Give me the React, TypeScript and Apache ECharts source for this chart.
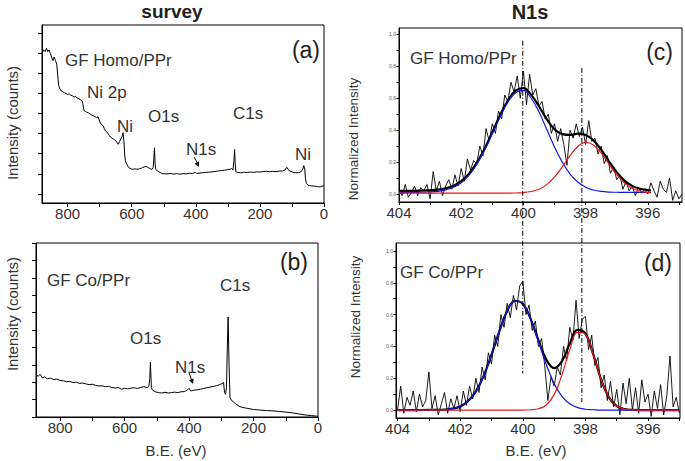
import React, { useEffect, useRef } from "react";
import * as echarts from "echarts";

const FONT = '"Liberation Sans", Arial, sans-serif';

// ---------- survey (a) GF Homo/PPr ----------
const surveyA_eV = [880,875,870,866,862,858,854,850,846,842,838,834,831,828,824,820,815,810,805,800,795,790,785,780,775,770,765,760,755,752,749,745,740,735,730,725,720,715,710,705,702,698,694,690,686,682,678,674,670,666,662,658,654,650,646,642,638,634,630,627,624,622,620,617,614,610,605,600,595,590,585,580,575,570,565,560,555,550,545,540,536,533,531,529,527,525,520,515,510,505,500,490,480,470,460,450,440,430,420,410,402,398,390,380,370,360,350,340,330,320,310,300,292,288,284,281,279,277,275,270,260,250,240,230,220,210,200,190,180,170,160,150,140,130,122,116,112,108,100,94,88,80,74,70,66,63,60,58,55,50,45,40,30,20,12,6,0];
const surveyA_I = [84,86,85,87,85,86,84,82,80,82,80,78,72,66,64,63,62.5,62,61.5,61,61.3,60.5,60.2,59.5,59.8,59,58.6,58,57.5,55,52,51.5,51,50.6,50,49.4,49,48.5,48,48.5,47,45,44,43.5,42,40.5,40,39,38,37,36.5,36,35.5,35,34,33,34.5,36,37.5,39.5,34,27,24,22.5,21.5,20,19.5,19,19,19.2,19,19,19.3,19.5,20,20.3,20.5,20,19.5,19,19,20,25,31,22,19,18,17.5,17,16.5,16.5,16.3,16.6,16.3,16.5,16.2,16.5,16.4,16.7,16.6,17.2,16.6,16.8,17,17.2,17.3,17.5,17.7,18,18.2,18.4,18.8,19,19.4,18.5,24,30,22,17.5,17.2,17,17.3,17.1,17.4,17.2,17.5,17.4,17.6,17.8,17.6,17.8,17.6,17.9,18,18.5,20,19,18,17.5,17,17,17,17.2,18,19,21,19,14,11,10,9.8,9.6,9.5,9.2,9,9.5,9.6];

// ---------- survey (b) GF Co/PPr ----------
const surveyB_eV = [875,868,862,855,848,840,830,820,810,800,790,780,770,760,750,740,730,720,710,700,690,680,670,660,650,640,630,620,610,600,590,580,570,560,550,540,530,525,522,520,517,514,505,495,485,475,465,455,445,435,425,415,405,400,395,385,375,365,355,345,335,325,315,305,298,293,290,287,284,282,279,276,273,268,263,255,245,235,220,200,180,160,140,120,100,80,60,40,20,0];
const surveyB_I = [24,23.5,24.5,22.5,23,22,22.3,21.5,21.8,21,20.8,20.2,20.5,19.8,20,19.3,19.5,19,18.6,18.8,18.2,17.8,18,17.4,17.6,17,16.6,17,16,16.5,16.2,16.6,16.8,16.4,17,17.4,16.9,17.5,22,31.5,17,15.5,14.5,14,13.8,14.2,13.8,14,14.3,14,14.5,14.6,15.5,16.5,15,15.4,15.6,16,16.4,16.8,17.2,17.5,18,18.6,19.2,19.8,14,13,17,35,57.5,30,11,9.5,8.8,7.5,6.2,5.5,5,4.3,4,3.7,3.5,3.2,2.8,2.4,1.8,1.2,0.8,0.4];

// ---------- N1s raw data ----------
const n1sEV = [404.0,403.9,403.8,403.7,403.6,403.5,403.4,403.3,403.2,403.1,
  403.0,402.9,402.8,402.7,402.6,402.5,402.4,402.3,402.2,402.1,
  402.0,401.9,401.8,401.7,401.6,401.5,401.4,401.3,401.2,401.1,
  401.0,400.9,400.8,400.7,400.6,400.5,400.4,400.3,400.2,400.1,
  400.0,399.9,399.8,399.7,399.6,399.5,399.4,399.3,399.2,399.1,
  399.0,398.9,398.8,398.7,398.6,398.5,398.4,398.3,398.2,398.1,
  398.0,397.9,397.8,397.7,397.6,397.5,397.4,397.3,397.2,397.1,
  397.0,396.9,396.8,396.7,396.6,396.5,396.4,396.3,396.2,396.1,
  396.0,395.9,395.8,395.7,395.6,395.5,395.4,395.3,395.2,395.1,
  395.0,394.9];
const rawC = [0.03,-0.01,0.06,-0.02,0.01,0.05,-0.01,0.04,0.02,0.06,
  -0.03,0.14,0.02,0.08,-0.01,0.05,0.09,0.03,0.12,0.05,
  0.16,0.08,0.22,0.15,0.21,0.19,0.30,0.24,0.41,0.33,
  0.44,0.38,0.52,0.47,0.62,0.58,0.70,0.64,0.74,0.60,
  0.77,0.56,0.75,0.62,0.66,0.55,0.58,0.47,0.50,0.38,
  0.44,0.33,0.41,0.31,0.18,0.40,0.35,0.44,0.36,0.42,
  0.31,0.46,0.33,0.35,0.25,0.30,0.19,0.24,0.13,0.17,
  0.09,0.12,0.03,0.08,0.02,0.05,-0.01,0.04,0.01,0.03,
  0.00,0.07,0.02,-0.02,0.08,0.03,0.01,0.10,-0.04,0.02,
  -0.03,0.00];
const rawD = [0.00,0.15,-0.02,0.08,0.03,0.12,-0.01,0.10,0.02,0.06,
  0.24,0.01,0.09,-0.03,0.04,0.11,-0.02,0.07,0.01,0.09,
  -0.01,0.12,0.03,0.15,0.07,0.20,0.11,0.27,0.19,0.36,
  0.29,0.47,0.40,0.60,0.52,0.67,0.58,0.72,0.63,0.78,
  0.81,0.60,0.66,0.50,0.56,0.40,0.45,0.28,0.06,0.21,
  0.15,0.27,0.22,0.40,0.31,0.52,0.44,0.69,0.45,0.57,
  0.59,0.38,0.47,0.28,0.33,0.14,0.22,0.06,0.18,0.02,
  0.13,-0.03,0.17,0.04,0.20,0.00,0.14,-0.02,0.19,0.05,
  0.10,-0.04,0.12,0.01,0.16,-0.03,0.09,0.34,0.02,0.08,
  -0.02];

// ---------- N1s fitted components ----------
const fitEV_C = [404,403.5,403,402.75,402.5,402.25,402,401.75,401.5,401.25,401,400.75,400.5,400.25,400,399.75,399.5,399.25,399,398.75,398.5,398.25,398,397.75,397.5,397.25,397,396.75,396.5,396.25,396,395.9];
const blueC = [0.010,0.010,0.013,0.017,0.026,0.042,0.071,0.117,0.185,0.273,0.377,0.483,0.575,0.635,0.649,0.600,0.515,0.405,0.295,0.200,0.125,0.075,0.042,0.025,0.016,0.012,0.011,0.010,0.010,0.010,0.010,0.010];
const redC = [0.005,0.005,0.005,0.005,0.005,0.005,0.005,0.005,0.005,0.005,0.005,0.005,0.0055,0.0065,0.009,0.016,0.030,0.059,0.106,0.170,0.240,0.298,0.323,0.307,0.257,0.188,0.121,0.069,0.036,0.018,0.010,0.008];
const envC = [0.020,0.020,0.023,0.027,0.036,0.052,0.081,0.127,0.195,0.283,0.387,0.493,0.586,0.647,0.663,0.621,0.550,0.469,0.406,0.375,0.370,0.378,0.370,0.337,0.278,0.205,0.137,0.084,0.051,0.033,0.025,0.023];

const fitEV_D = [404,403.5,403,402.75,402.5,402.25,402,401.75,401.5,401.25,401,400.75,400.5,400.25,400,399.75,399.5,399.25,399,398.75,398.5,398.25,398,397.75,397.5,397.25,397,396.75,396.5,396.25,396,395.5,395];
const blueD = [0,0,0.0005,0.001,0.003,0.009,0.023,0.056,0.117,0.215,0.348,0.495,0.622,0.687,0.667,0.571,0.430,0.285,0.167,0.086,0.039,0.015,0.005,0.002,0,0,0,0,0,0,0,0,0];
const redD = [0,0,0,0,0,0,0,0,0,0,0,0,0,0,0,0.002,0.008,0.032,0.097,0.221,0.379,0.489,0.475,0.348,0.192,0.080,0.025,0.006,0.001,0,0,0,0];
const envD = [0,0,0.0005,0.001,0.003,0.009,0.023,0.056,0.117,0.215,0.348,0.495,0.622,0.687,0.667,0.573,0.438,0.317,0.264,0.307,0.418,0.504,0.480,0.350,0.192,0.080,0.025,0.006,0.001,0,0,0,0];

// ---------- ticks ----------
const surveyTicks = [0,100,200,300,400,500,600,700,800];
const surveyLabels = [0,200,400,600,800];
const surveyAYTicks = [5.1,16.4,27.7,39.0,50.3,61.6,72.9,84.2,95.5];
const n1sXTicks = [395,396,397,398,399,400,401,402,403,404];
const n1sXLabels = [396,398,400,402,404];
const n1sYTicks = [0,0.1,0.2,0.3,0.4,0.5,0.6,0.7,0.8,0.9,1.0];
const n1sYLabels = [0,0.2,0.4,0.6,0.8,1.0];

const zip = (xs: number[], ys: number[]) =>
  ys.map((y, i) => [xs[i], y]).filter((p) => p[0] !== undefined);

const black = "#000";

function xAxisSurvey(grid: number, max: number) {
  return {
    gridIndex: grid, type: "value", min: 0, max, inverse: true,
    axisLine: { show: true, onZero: false, lineStyle: { color: black, width: 1 } },
    axisTick: { show: true, customValues: surveyTicks, length: 4, lineStyle: { color: black } },
    axisLabel: { customValues: surveyLabels, fontSize: 15, color: "#333", margin: 3, fontFamily: FONT },
    splitLine: { show: false },
  };
}
function xAxisN1s(grid: number, min: number, max: number) {
  return {
    gridIndex: grid, type: "value", min, max, inverse: true,
    axisLine: { show: true, onZero: false, lineStyle: { color: black, width: 1 } },
    axisTick: { show: true, customValues: n1sXTicks, length: 3, lineStyle: { color: black } },
    axisLabel: { customValues: n1sXLabels, fontSize: 15, color: "#333", margin: 3, fontFamily: FONT },
    splitLine: { show: false },
  };
}
function yAxisN1s(grid: number, max: number) {
  return {
    gridIndex: grid, type: "value", min: -0.05, max,
    axisLine: { show: true, onZero: false, lineStyle: { color: black, width: 1 } },
    axisTick: { show: true, customValues: n1sYTicks, length: 2.5, lineStyle: { color: black } },
    axisLabel: {
      customValues: n1sYLabels, fontSize: 5, color: "#555", margin: 3, fontFamily: FONT,
      formatter: (v: number) => v.toFixed(1),
    },
    splitLine: { show: false },
  };
}

function lineSeries(x: number, y: number, data: number[][], color: string, width: number, smooth: boolean | number = false, z = 2) {
  return {
    type: "line", xAxisIndex: x, yAxisIndex: y, data, symbol: "none", showSymbol: false,
    smooth, lineStyle: { color, width }, z, silent: true,
  };
}

function txt(id: string, text: string, x: number, y: number, size: number, opts: any = {}) {
  return {
    id, type: "text", x, y, rotation: opts.rotation || 0, silent: true,
    style: {
      text, fontSize: size, fontFamily: FONT, fontWeight: opts.weight || "normal",
      fill: opts.fill || "#333", align: opts.align || "left", verticalAlign: "middle",
    },
  };
}

export default function App() {
  const ref = useRef<HTMLDivElement>(null);
  useEffect(() => {
    if (!ref.current) return;
    const chart = echarts.init(ref.current, undefined, { renderer: "svg" });
    const texts: any[] = [
      txt("t-survey", "survey", 172, 11, 19, { weight: "bold", align: "center", fill: "#222" }),
      txt("t-n1s", "N1s", 530, 12, 20, { weight: "bold", align: "center", fill: "#222" }),
      txt("yl-a", "Intensity (counts)", 12, 123, 15, { rotation: Math.PI / 2, align: "center" }),
      txt("yl-b", "Intensity (counts)", 12, 314, 15, { rotation: Math.PI / 2, align: "center" }),
      txt("yl-c", "Normalized Intensity", 353, 139, 13.5, { rotation: Math.PI / 2, align: "center" }),
      txt("yl-d", "Normalized Intensity", 355, 317, 13.5, { rotation: Math.PI / 2, align: "center" }),
      txt("xl-b", "B.E. (eV)", 176, 450, 15, { align: "center" }),
      txt("xl-d", "B.E. (eV)", 536, 450, 15, { align: "center" }),
      txt("p-a", "(a)", 320, 50, 23, { align: "right", fill: "#222" }),
      txt("p-b", "(b)", 308, 262, 23, { align: "right", fill: "#222" }),
      txt("p-c", "(c)", 673, 52, 23, { align: "right", fill: "#222" }),
      txt("p-d", "(d)", 672, 263, 23, { align: "right", fill: "#222" }),
      txt("a-gf", "GF Homo/PPr", 65, 60, 17),
      txt("a-ni2p", "Ni 2p", 87, 92, 17),
      txt("a-ni1", "Ni", 117, 126, 17),
      txt("a-o1s", "O1s", 148, 116, 17),
      txt("a-n1s", "N1s", 186, 149, 17),
      txt("a-c1s", "C1s", 233, 113, 17),
      txt("a-ni2", "Ni", 295, 154, 17),
      txt("b-gf", "GF Co/PPr", 47, 280, 17),
      txt("b-c1s", "C1s", 220, 285, 17),
      txt("b-o1s", "O1s", 130, 338, 17),
      txt("b-n1s", "N1s", 175, 367, 17),
      txt("c-gf", "GF Homo/PPr", 410, 58, 17),
      txt("d-gf", "GF Co/PPr", 400, 272, 17),
      { id: "arr-a", type: "line", silent: true, shape: { x1: 194, y1: 157, x2: 198, y2: 164 }, style: { stroke: "#111", lineWidth: 1 } },
      { id: "arrh-a", type: "polygon", silent: true, shape: { points: [[199, 167], [194.6, 163.6], [199.0, 161.4]] }, style: { fill: "#111" } },
      { id: "arr-b", type: "line", silent: true, shape: { x1: 189, y1: 373, x2: 192, y2: 381 }, style: { stroke: "#111", lineWidth: 1 } },
      { id: "arrh-b", type: "polygon", silent: true, shape: { points: [[193, 384], [189.0, 380.2], [193.7, 378.5]] }, style: { fill: "#111" } },
    ];

    const option: any = {
      animation: false,
      backgroundColor: "#fff",
      textStyle: { fontFamily: FONT },
      grid: [
        { left: 42, top: 25, width: 282, height: 178, show: true, borderColor: black, borderWidth: 1, backgroundColor: "transparent" },
        { left: 36, top: 243, width: 282, height: 174, show: true, borderColor: black, borderWidth: 1, backgroundColor: "transparent" },
        { left: 399, top: 28, width: 283, height: 174, show: true, borderColor: black, borderWidth: 1, backgroundColor: "transparent" },
        { left: 396, top: 243, width: 284, height: 175, show: true, borderColor: black, borderWidth: 1, backgroundColor: "transparent" },
      ],
      xAxis: [
        xAxisSurvey(0, 880),
        xAxisSurvey(1, 875),
        xAxisN1s(2, 394.9, 404),
        xAxisN1s(3, 394.98, 404.05),
      ],
      yAxis: [
        {
          gridIndex: 0, type: "value", min: 0, max: 100,
          axisLine: { show: true, onZero: false, lineStyle: { color: black } },
          axisTick: { show: true, customValues: surveyAYTicks, length: 4, lineStyle: { color: black } },
          axisLabel: { show: false }, splitLine: { show: false },
        },
        {
          gridIndex: 1, type: "value", min: 0, max: 100, interval: 10,
          axisLine: { show: true, onZero: false, lineStyle: { color: black } },
          axisTick: { show: true, length: 4, lineStyle: { color: black } },
          axisLabel: { show: false }, splitLine: { show: false },
        },
        yAxisN1s(2, 1.04),
        yAxisN1s(3, 1.05),
      ],
      series: [
        lineSeries(0, 0, zip(surveyA_eV, surveyA_I), "#000", 1),
        lineSeries(1, 1, zip(surveyB_eV, surveyB_I), "#000", 1),
        lineSeries(2, 2, zip(n1sEV, rawC), "#000", 0.9),
        lineSeries(2, 2, zip(fitEV_C, envC), "#000", 2.2, 0.4, 3),
        lineSeries(2, 2, zip(fitEV_C, blueC), "#1515e6", 1.2, 0.4, 4),
        lineSeries(2, 2, zip(fitEV_C, redC), "#e21a1a", 1.2, 0.4, 5),
        lineSeries(3, 3, zip(n1sEV, rawD), "#000", 0.9),
        lineSeries(3, 3, zip(fitEV_D, envD), "#000", 2.2, 0.4, 3),
        lineSeries(3, 3, zip(fitEV_D, blueD), "#1515e6", 1.2, 0.4, 4),
        lineSeries(3, 3, zip(fitEV_D, redD), "#e21a1a", 1.2, 0.4, 5),
      ],
      graphic: texts,
    };
    chart.setOption(option);

    // dash-dot guide lines spanning panels (c) and (d), positioned through the axes
    const px = (axis: number, v: number) => chart.convertToPixel({ xAxisIndex: axis } as any, v) as number;
    const py = (axis: number, v: number) => chart.convertToPixel({ yAxisIndex: axis } as any, v) as number;
    const xA = px(2, 400.02);
    const xB = px(2, 398.12);
    const guides = [
      { id: "g1", type: "line", silent: true, z: 10, shape: { x1: xA, y1: py(2, 0.96), x2: xA, y2: py(3, 0.23) }, style: { stroke: "#000", lineWidth: 1, lineDash: [5, 2, 1, 2] } },
      { id: "g2", type: "line", silent: true, z: 10, shape: { x1: xB, y1: py(2, 0.79), x2: xB, y2: py(3, 0.05) }, style: { stroke: "#000", lineWidth: 1, lineDash: [5, 2, 1, 2] } },
    ];
    chart.setOption({ graphic: [...texts, ...guides] });

    return () => chart.dispose();
  }, []);
  return <div ref={ref} style={{ position: "fixed", left: 0, top: 0, width: 685, height: 461 }} />;
}
